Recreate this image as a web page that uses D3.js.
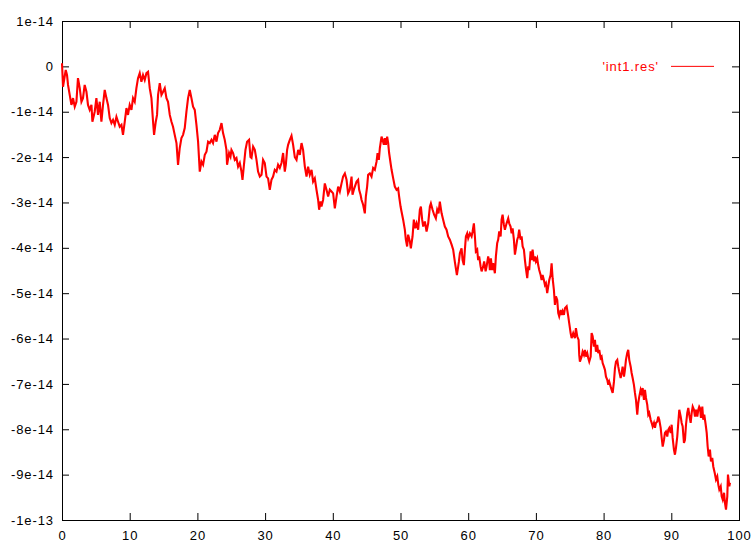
<!DOCTYPE html>
<html><head><meta charset="utf-8">
<script src="https://cdn.jsdelivr.net/npm/d3@7"></script>
<style>html,body{margin:0;padding:0;background:#fff;} svg{display:block;}</style>
</head><body><svg id="c" width="752" height="543"></svg>
<script>
// ---- data ----
const Y_UNIT = 1e-14; // series y values below are in units of 1e-14
const xTickValues = [0,10,20,30,40,50,60,70,80,90,100];
const xTickLabels = ["0","10","20","30","40","50","60","70","80","90","100"];
const yTickValues = [1,0,-1,-2,-3,-4,-5,-6,-7,-8,-9,-10];
const yTickLabels = ["1e-14","0","-1e-14","-2e-14","-3e-14","-4e-14","-5e-14","-6e-14","-7e-14","-8e-14","-9e-14","-1e-13"];
const legendLabel = "'int1.res'";
const int1Res = [
[0,0.07],[0.15,-0.45],[0.55,-0.08],[0.74,-0.19],[0.89,-0.41],[1.14,-0.63],[1.39,-0.85],[1.63,-0.70],[1.88,-0.89],[2.13,-0.78],[2.36,-0.26],[2.62,-0.48],[2.87,-0.78],[3.10,-0.70],[3.35,-0.41],[3.61,-0.56],[3.84,-0.85],[4.09,-0.96],[4.35,-0.85],[4.49,-1.22],[4.83,-1.00],[5.08,-0.70],[5.32,-1.07],[5.57,-0.78],[5.82,-1.22],[6.06,-0.85],[6.31,-0.52],[6.56,-0.70],[6.80,-0.85],[7.05,-1.14],[7.30,-1.25],[7.54,-1.18],[7.79,-1.29],[8.04,-1.11],[8.28,-1.22],[8.53,-1.33],[8.78,-1.29],[9.01,-1.51],[9.27,-1.22],[9.52,-0.92],[9.75,-1.07],[10.00,-0.85],[10.26,-0.96],[10.49,-0.70],[10.74,-0.78],[10.99,-0.48],[11.23,-0.26],[11.48,-0.15],[11.73,-0.34],[11.97,-0.19],[12.22,-0.30],[12.47,-0.15],[12.71,-0.12],[12.96,-0.48],[13.21,-0.70],[13.45,-1.22],[13.60,-1.51],[13.85,-1.22],[14.04,-1.07],[14.19,-0.63],[14.44,-0.37],[14.69,-0.63],[14.93,-0.56],[15.18,-0.48],[15.43,-0.70],[15.66,-0.78],[15.92,-1.07],[16.17,-1.22],[16.40,-1.33],[16.65,-1.51],[16.91,-1.69],[17.14,-2.17],[17.39,-1.80],[17.64,-1.58],[17.88,-1.51],[18.13,-1.36],[18.38,-1.00],[18.62,-0.70],[18.87,-0.52],[19.12,-0.70],[19.36,-0.89],[19.61,-0.96],[19.86,-1.29],[20.10,-1.66],[20.35,-2.32],[20.60,-2.10],[20.84,-2.17],[21.09,-1.95],[21.34,-1.88],[21.58,-1.66],
[21.83,-1.69],[22.08,-1.62],[22.31,-1.69],[22.57,-1.51],[22.82,-1.66],[23.05,-1.47],[23.30,-1.40],[23.56,-1.25],[23.79,-1.47],[24.04,-1.62],[24.29,-1.84],[24.38,-2.17],[24.68,-1.91],[24.89,-1.99],[25.03,-1.84],[25.27,-1.91],[25.52,-2.06],[25.77,-2.02],[26.01,-2.21],[26.26,-2.13],[26.51,-2.32],[26.66,-2.50],[26.85,-2.21],[27.10,-1.84],[27.34,-1.66],[27.63,-1.62],[27.84,-2.00],[27.99,-2.02],[28.23,-1.77],[28.48,-1.84],[28.73,-2.06],[28.96,-2.32],[29.22,-2.43],[29.47,-2.39],[29.70,-2.06],[29.95,-2.13],[30.21,-2.43],[30.44,-2.47],[30.69,-2.72],[30.94,-2.50],[31.18,-2.43],[31.43,-2.28],[31.68,-2.32],[31.92,-2.17],[32.17,-2.24],[32.42,-2.13],[32.66,-1.91],[32.91,-2.32],[33.06,-2.17],[33.25,-1.84],[33.40,-1.73],[33.65,-1.62],[33.90,-1.53],[34.14,-1.73],[34.39,-2.00],[34.64,-2.06],[34.88,-1.84],[35.13,-1.95],[35.38,-1.69],[35.61,-1.84],[35.87,-2.21],[36.12,-2.43],[36.35,-2.21],[36.60,-2.39],[36.86,-2.28],[37.09,-2.54],[37.34,-2.47],[37.59,-2.72],[37.83,-2.94],[37.98,-3.16],[38.19,-2.98],[38.33,-3.09],[38.57,-2.94],[38.82,-2.58],[39.07,-2.72],[39.31,-2.87],[39.56,-2.72],[39.81,-2.76],[40.05,-2.80],[40.30,-3.13],[40.55,-2.87],[40.79,-2.65],[41.04,-2.76],[41.29,-2.58],[41.52,-2.43],[41.78,-2.36],[42.03,-2.50],[42.26,-2.80],[42.51,-2.72],
[42.77,-2.43],[42.91,-2.83],[43.11,-2.72],[43.26,-2.65],[43.51,-2.54],[43.74,-2.50],[43.89,-2.72],[44.10,-2.83],[44.24,-2.94],[44.48,-3.05],[44.73,-3.24],[44.88,-2.87],[45.07,-2.65],[45.22,-2.39],[45.47,-2.36],[45.72,-2.43],[45.96,-2.24],[46.21,-2.28],[46.46,-2.10],[46.61,-1.91],[46.80,-2.06],[46.95,-1.80],[47.20,-1.55],[47.35,-1.62],[47.54,-1.73],[47.69,-1.58],[47.84,-1.73],[48.03,-1.55],[48.18,-1.69],[48.32,-1.91],[48.53,-2.13],[48.68,-2.28],[48.92,-2.47],[49.16,-2.65],[49.42,-2.72],[49.65,-2.69],[49.80,-2.87],[50.01,-3.09],[50.15,-3.20],[50.39,-3.38],[50.64,-3.60],[50.79,-3.82],[50.98,-3.97],[51.13,-3.71],[51.38,-3.86],[51.53,-4.01],[51.78,-3.75],[51.97,-3.38],[52.17,-3.57],[52.37,-3.46],[52.61,-3.60],[52.86,-3.16],[53.01,-3.09],[53.20,-3.38],[53.35,-3.53],[53.60,-3.42],[53.85,-3.64],[54.09,-3.46],[54.34,-3.09],[54.49,-3.02],[54.74,-3.16],[54.97,-3.27],[55.22,-3.35],[55.42,-3.16],[55.62,-3.24],[55.81,-2.98],[56.07,-3.24],[56.30,-3.38],[56.55,-3.53],[56.80,-3.60],[57.04,-3.75],[57.29,-3.82],[57.55,-3.93],[57.78,-4.04],[58.03,-4.31],[58.33,-4.60],[58.62,-4.31],
[58.77,-4.12],[59.02,-4.01],[59.17,-4.27],[59.36,-4.38],[59.51,-4.04],[59.66,-3.75],[59.85,-3.68],[60.00,-3.79],[60.25,-3.68],[60.50,-3.75],[60.65,-3.64],[60.84,-3.46],[60.99,-3.75],[61.13,-4.08],[61.33,-4.04],[61.47,-4.27],[61.62,-4.19],[61.83,-4.41],[61.98,-4.52],[62.21,-4.41],[62.36,-4.30],[62.57,-4.52],[62.72,-4.41],[62.95,-4.19],[63.10,-4.30],[63.20,-4.49],[63.35,-4.23],[63.54,-4.49],[63.69,-4.34],[63.94,-4.56],[64.09,-4.19],[64.28,-3.90],[64.43,-3.82],[64.58,-3.64],[64.79,-3.75],[64.93,-3.38],[65.08,-3.27],[65.27,-3.49],[65.42,-3.60],[65.67,-3.46],[65.91,-3.35],[66.06,-3.46],[66.26,-3.53],[66.41,-3.68],[66.56,-3.57],[66.75,-3.82],[66.90,-4.15],[67.05,-4.01],[67.24,-3.82],[67.39,-3.75],[67.53,-3.60],[67.74,-3.82],[67.89,-3.75],[68.04,-3.97],[68.23,-4.04],[68.38,-4.27],[68.52,-4.45],[68.72,-4.67],[68.87,-4.41],[69.01,-4.49],[69.22,-4.08],[69.37,-4.27],[69.51,-4.04],[69.71,-4.30],[69.85,-4.19],[70.00,-4.30],[70.19,-4.23],[70.34,-4.38],[70.49,-4.49],[70.70,-4.60],[70.84,-4.71],[70.99,-4.60],[71.18,-4.71],[71.33,-4.82],[71.48,-4.78],[71.67,-5.00],[71.82,-4.85],[71.97,-4.71],[72.17,-4.60],[72.32,-4.34],[72.47,-4.67],[72.66,-4.93],[72.81,-5.26],[72.96,-5.07],[73.15,-5.15],[73.30,-5.44],[73.44,-5.51],[73.65,-5.37],[73.80,-5.48],[73.95,-5.40],[74.14,-5.48],[74.29,-5.33],[74.54,-5.29],[74.78,-5.51],[74.92,-5.66],[75.13,-5.88],[75.28,-5.99],[75.51,-5.88],[75.76,-5.99],[75.91,-5.77],[76.10,-5.95],[76.31,-6.03],
[76.40,-6.36],[76.50,-6.51],[76.75,-6.40],[76.90,-6.29],[77.09,-6.36],[77.24,-6.25],[77.39,-6.40],[77.58,-6.32],[77.73,-6.43],[77.88,-6.51],[78.09,-6.40],[78.23,-5.88],[78.38,-5.95],[78.57,-6.18],[78.72,-6.03],[78.87,-6.29],[79.06,-6.14],[79.21,-6.32],[79.36,-6.25],[79.56,-6.43],[79.71,-6.40],[79.86,-6.54],[80.05,-6.62],[80.20,-6.69],[80.35,-6.84],[80.54,-6.91],[80.69,-7.02],[80.83,-6.95],[81.04,-7.06],[81.19,-7.13],[81.34,-7.20],[81.53,-6.95],[81.68,-6.65],[81.83,-6.51],[82.02,-6.47],[82.17,-6.62],[82.31,-6.73],[82.52,-6.87],[82.67,-6.76],[82.81,-6.62],[83.01,-6.84],[83.15,-6.69],[83.30,-6.47],[83.49,-6.32],[83.64,-6.25],[83.79,-6.47],[84.00,-6.62],[84.14,-6.76],[84.29,-6.87],[84.48,-7.02],[84.63,-7.20],[84.78,-7.35],[84.97,-7.68],[85.12,-7.42],[85.27,-7.28],[85.47,-7.13],[85.62,-7.20],[85.77,-7.09],[85.96,-7.35],[86.11,-7.13],[86.26,-7.31],[86.45,-7.46],[86.60,-7.68],[86.74,-7.64],[86.95,-7.79],[87.10,-7.86],[87.25,-7.94],[87.44,-7.86],[87.59,-7.97],[87.73,-7.86],[87.93,-7.83],[88.07,-7.72],[88.22,-7.79],[88.43,-7.97],[88.58,-8.19],[88.73,-8.38],[88.92,-8.23],[89.06,-8.08],[89.21,-8.05],[89.40,-8.16],[89.55,-8.01],[89.70,-7.97],[89.91,-8.08],[90.05,-7.90],[90.20,-8.19],[90.39,-8.45],[90.54,-8.56],[90.69,-8.41],[90.88,-8.16],[91.03,-7.86],[91.18,-7.57],[91.39,-7.72],[91.53,-7.86],[91.68,-7.94],[91.87,-8.30],[92.02,-8.23],[92.17,-7.90],[92.36,-7.64],[92.51,-7.53],[92.65,-7.68],[92.86,-7.86],[93.01,-7.64],[93.16,-7.50],[93.35,-7.57],[93.50,-7.72],[93.65,-7.57],[93.84,-7.72],[93.99,-7.57],[94.13,-7.50],
[94.24,-7.53],[94.38,-7.75],[94.58,-7.50],[94.72,-7.79],[94.87,-7.68],[95.08,-7.90],[95.23,-8.08],[95.37,-8.38],[95.52,-8.60],[95.71,-8.45],[95.86,-8.71],[96.05,-8.63],[96.20,-8.82],[96.41,-8.96],[96.60,-9.11],[96.79,-9.04],[96.94,-9.22],[97.09,-9.33],[97.30,-9.26],[97.44,-9.48],[97.59,-9.55],[97.79,-9.40],[97.93,-9.63],[98.08,-9.77],[98.27,-9.48],[98.37,-9.00],[98.57,-9.26],[98.67,-9.18]
];

// ---- drawing ----
const L = 62, R = 739, T = 21, B = 520;
const svg = d3.select("#c");
const FONT = "'Liberation Sans', Arial, Helvetica, sans-serif";

const x = d3.scaleLinear().domain([0, 100]).range([L, R]);
const y = d3.scaleLinear().domain([-10 * Y_UNIT, 1 * Y_UNIT]).range([B, T]);
const yTicks = yTickValues.map(v => v * Y_UNIT);

function styleAxis(g, showText) {
  g.select(".domain").remove();
  g.selectAll(".tick line").attr("stroke", "#000").attr("stroke-width", 1);
  g.selectAll(".tick text")
    .attr("fill", "#000")
    .style("font-family", FONT)
    .style("font-size", "13px")
    .style("letter-spacing", "0.9px");
  if (!showText) g.selectAll(".tick text").remove();
}

svg.append("g").attr("transform", `translate(0,${B})`)
  .call(d3.axisBottom(x).tickValues(xTickValues).tickFormat((d, i) => xTickLabels[i])
    .tickSizeInner(-7).tickSizeOuter(0).tickPadding(11))
  .call(g => styleAxis(g, true));
svg.append("g").attr("transform", `translate(0,${T})`)
  .call(d3.axisTop(x).tickValues(xTickValues).tickSizeInner(-7).tickSizeOuter(0))
  .call(g => styleAxis(g, false));
svg.append("g").attr("transform", `translate(${L},0)`)
  .call(d3.axisLeft(y).tickValues(yTicks).tickFormat((d, i) => yTickLabels[i])
    .tickSizeInner(-7).tickSizeOuter(0).tickPadding(8))
  .call(g => styleAxis(g, true));
svg.append("g").attr("transform", `translate(${R},0)`)
  .call(d3.axisRight(y).tickValues(yTicks).tickSizeInner(-7).tickSizeOuter(0))
  .call(g => styleAxis(g, false));

// frame
svg.append("rect")
  .attr("x", L + 0.5).attr("y", T + 0.5)
  .attr("width", R - L).attr("height", B - T)
  .attr("fill", "none").attr("stroke", "#000").attr("stroke-width", 1);

// series
const line = d3.line().x(d => x(d[0])).y(d => y(d[1] * Y_UNIT));
svg.append("path").datum(int1Res)
  .attr("d", line)
  .attr("fill", "none").attr("stroke", "#ff0000")
  .attr("stroke-width", 2.1).attr("stroke-linejoin", "miter");

// legend
const legY = y(0);
svg.append("text")
  .attr("x", 659).attr("y", legY).attr("dy", "0.35em")
  .attr("text-anchor", "end")
  .attr("fill", "#ff0000")
  .style("font-family", FONT).style("font-size", "13px").style("letter-spacing", "0.9px")
  .text(legendLabel);
svg.append("line")
  .attr("x1", 671).attr("x2", 714).attr("y1", legY).attr("y2", legY)
  .attr("stroke", "#ff0000").attr("stroke-width", 1);
</script>
</body></html>
